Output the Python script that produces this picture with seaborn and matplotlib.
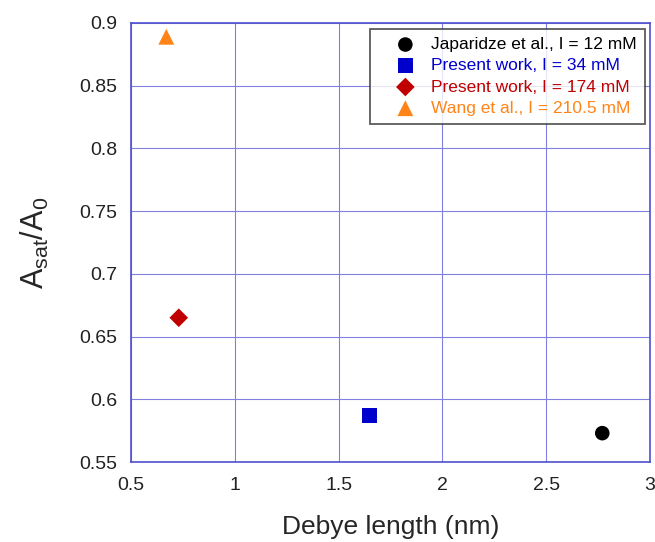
import matplotlib
matplotlib.use("Agg")
import matplotlib.pyplot as plt
import seaborn as sns
import pandas as pd

labels = ["Japaridze et al., I = 12 mM", "Present work, I = 34 mM",
          "Present work, I = 174 mM", "Wang et al., I = 210.5 mM"]
debye = [2.77, 1.65, 0.73, 0.67]
ratio = [0.573, 0.587, 0.665, 0.889]
colors = ["#000000", "#0000cc", "#c00000", "#ff8417"]
markers = ["o", "s", "D", "^"]
sizes = [110, 120, 90, 130]

sns.set_theme(style="white")
plt.rcParams['font.family'] = ['Liberation Sans', 'DejaVu Sans']
plt.rcParams['mathtext.fontset'] = 'custom'
plt.rcParams['mathtext.rm'] = 'Liberation Sans'
plt.rcParams['mathtext.it'] = 'Liberation Sans'

df = pd.DataFrame({"label": labels, "x": debye, "y": ratio})

fig = plt.figure(figsize=(6.55, 5.42), dpi=100)
ax = fig.add_axes([0.2, 0.1476, 0.7924, 0.81])

for i, lab in enumerate(labels):
    sub = df[df["label"] == lab]
    sns.scatterplot(data=sub, x="x", y="y", ax=ax, color=colors[i], marker=markers[i],
                    s=sizes[i], edgecolor="none", label=lab, zorder=3)

ax.set_xlim(0.5, 3)
ax.set_ylim(0.55, 0.9)
ax.set_xticks([0.5, 1, 1.5, 2, 2.5, 3])
ax.set_xticklabels(["0.5", "1", "1.5", "2", "2.5", "3"])
ax.set_yticks([0.55, 0.6, 0.65, 0.7, 0.75, 0.8, 0.85, 0.9])
ax.set_yticklabels(["0.55", "0.6", "0.65", "0.7", "0.75", "0.8", "0.85", "0.9"])
ax.grid(True, color="#8080e0", linewidth=0.8)
for sp in ax.spines.values():
    sp.set_color("#5050d0")
    sp.set_linewidth(1.2)
ax.tick_params(axis="both", direction="in", length=5, color="#5050d0",
               labelsize=14, labelcolor="#222222")
ax.tick_params(axis="y", pad=10)
ax.tick_params(axis="x", pad=11)
ax.set_xlabel("Debye length (nm)", fontsize=19, labelpad=15)
ax.set_ylabel(r"$\mathregular{A_{sat}/A_0}$", fontsize=22, labelpad=20)

leg = ax.legend(loc="upper right", frameon=True, fancybox=False, fontsize=12.5,
                edgecolor="#333333", borderpad=0.45, handletextpad=-0.1,
                labelspacing=0.35, bbox_to_anchor=(0.990, 0.986), borderaxespad=0,
                handlelength=3.2)
leg.get_frame().set_linewidth(1.3)
for t, c in zip(leg.get_texts(), colors):
    t.set_color(c)

fig.savefig("out.png", dpi=100)
